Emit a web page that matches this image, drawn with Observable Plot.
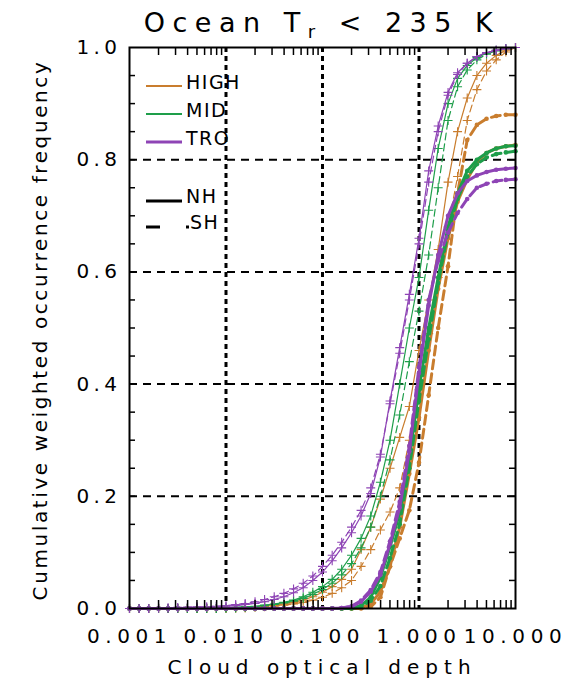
<!DOCTYPE html>
<html><head><meta charset="utf-8">
<script src="https://cdn.jsdelivr.net/npm/d3@7"></script>
<script src="https://cdn.jsdelivr.net/npm/@observablehq/plot@0.6"></script>
<style>
body{margin:0;background:#fff;}
svg text{font-family:"DejaVu Sans",sans-serif;}
</style></head><body><div id="chart"></div>
<script>
// Cloud optical depth grid
const tau = [0.001,0.00126,0.00158,0.002,0.00251,0.00316,0.00398,0.00501,0.00631,0.00794,
 0.01,0.0126,0.0158,0.02,0.0251,0.0316,0.0398,0.0501,0.0631,0.0794,
 0.1,0.126,0.158,0.2,0.251,0.316,0.398,0.501,0.631,0.794,
 1,1.26,1.58,2,2.51,3.16,3.98,5.01,6.31,7.94,10];

// thin curves (+ markers)
const thinHighNH = [0,0,0,0,0,0,0,0,0,0,
 0.001,0.001,0.002,0.003,0.004,0.006,0.008,0.011,0.015,0.021,
 0.029,0.039,0.052,0.07,0.105,0.145,0.195,0.25,0.305,0.36,
 0.46,0.55,0.64,0.76,0.85,0.91,0.95,0.972,0.986,0.995,1.0];
const thinHighSH = [0,0,0,0,0,0,0,0,0,0,
 0,0.001,0.001,0.002,0.003,0.004,0.006,0.008,0.011,0.015,
 0.02,0.027,0.037,0.05,0.075,0.105,0.14,0.172,0.215,0.3,
 0.39,0.49,0.59,0.68,0.77,0.87,0.925,0.958,0.978,0.992,1.0];
const thinMidNH = [0,0,0,0,0,0,0,0,0,0,
 0.001,0.002,0.003,0.004,0.006,0.008,0.011,0.015,0.021,0.029,
 0.039,0.052,0.07,0.095,0.125,0.165,0.225,0.3,0.4,0.5,
 0.59,0.71,0.82,0.9,0.945,0.968,0.982,0.99,0.995,0.998,1.0];
const thinMidSH = [0,0,0,0,0,0,0,0,0,0,
 0.001,0.001,0.002,0.003,0.005,0.007,0.01,0.013,0.018,0.025,
 0.034,0.045,0.06,0.08,0.108,0.145,0.2,0.265,0.345,0.44,
 0.53,0.63,0.75,0.87,0.93,0.96,0.978,0.988,0.994,0.998,1.0];
const thinTroNH = [0,0,0,0.001,0.001,0.001,0.002,0.002,0.002,0.003,
 0.004,0.005,0.007,0.009,0.012,0.016,0.021,0.028,0.037,0.05,
 0.065,0.085,0.108,0.135,0.165,0.205,0.27,0.37,0.465,0.56,
 0.66,0.78,0.86,0.92,0.955,0.972,0.984,0.991,0.995,0.998,1.0];
const thinTroSH = [0,0,0,0.001,0.001,0.002,0.002,0.003,0.003,0.004,
 0.005,0.007,0.009,0.012,0.016,0.021,0.027,0.035,0.045,0.058,
 0.075,0.095,0.118,0.145,0.175,0.215,0.275,0.365,0.455,0.55,
 0.65,0.76,0.85,0.915,0.952,0.972,0.984,0.991,0.995,0.998,1.0];

// thick curves (dot markers)
const thickHighNH = [0,0,0,0,0,0,0,0,0,0,0,0,0,0,0,0,0,0,0,0,
 0,0,0,0,0.001,0.008,0.03,0.075,0.145,0.24,0.34,0.46,0.57,0.66,0.725,0.765,0.795,0.812,0.82,0.824,0.826];
const thickHighSH = [0,0,0,0,0,0,0,0,0,0,0,0,0,0,0,0,0,0,0,0,
 0,0,0,0,0,0.003,0.02,0.075,0.125,0.175,0.26,0.38,0.5,0.61,0.74,0.835,0.862,0.873,0.878,0.88,0.88];
const thickMidNH = [0,0,0,0,0,0,0,0,0,0,0,0,0,0,0,0,0,0,0,0,
 0,0,0,0.001,0.005,0.02,0.055,0.11,0.17,0.27,0.39,0.5,0.59,0.68,0.74,0.78,0.8,0.812,0.82,0.824,0.825];
const thickMidSH = [0,0,0,0,0,0,0,0,0,0,0,0,0,0,0,0,0,0,0,0,
 0,0,0,0,0.003,0.014,0.04,0.09,0.15,0.25,0.37,0.48,0.58,0.67,0.73,0.77,0.792,0.804,0.81,0.813,0.815];
const thickTroNH = [0,0,0,0,0,0,0,0,0,0,0,0,0,0,0,0,0,0,0,0,
 0,0,0.001,0.003,0.012,0.03,0.06,0.115,0.18,0.28,0.42,0.54,0.63,0.7,0.74,0.762,0.772,0.778,0.782,0.784,0.785];
const thickTroSH = [0,0,0,0,0,0,0,0,0,0,0,0,0,0,0,0,0,0,0,0,
 0,0,0.001,0.004,0.014,0.033,0.065,0.12,0.19,0.29,0.43,0.55,0.62,0.67,0.705,0.73,0.75,0.757,0.762,0.764,0.765];

const regions = ["HIGH","MID","TRO"];
const colors = ["#C97D2E","#1E9E4A","#8E44B5"];
const hemis = ["NH","SH"];
const xTickLabels = [0.001,0.01,0.1,1,10];
const yTickLabels = [0,0.2,0.4,0.6,0.8,1.0];
const xGrid = [0.01,0.1,1];
const yGrid = [0.2,0.4,0.6,0.8];
const xMinor = [0.002,0.003,0.004,0.005,0.006,0.007,0.008,0.009,
 0.02,0.03,0.04,0.05,0.06,0.07,0.08,0.09,
 0.2,0.3,0.4,0.5,0.6,0.7,0.8,0.9,
 2,3,4,5,6,7,8,9];
const yMinor = [0.05,0.1,0.15,0.2,0.25,0.3,0.35,0.4,0.45,0.5,0.55,0.6,0.65,0.7,0.75,0.8,0.85,0.9,0.95];
const titleMain = "Ocean T", titleSub = "r", titleRest = " < 235 K";
const xLabel = "Cloud optical depth";
const yLabel = "Cumulative weighted occurrence frequency";

const series = [
 {set:"thin", region:"HIGH", hemi:"NH", values: thinHighNH},
 {set:"thin", region:"HIGH", hemi:"SH", values: thinHighSH},
 {set:"thin", region:"MID", hemi:"NH", values: thinMidNH},
 {set:"thin", region:"MID", hemi:"SH", values: thinMidSH},
 {set:"thin", region:"TRO", hemi:"NH", values: thinTroNH},
 {set:"thin", region:"TRO", hemi:"SH", values: thinTroSH},
 {set:"thick", region:"HIGH", hemi:"NH", values: thickHighNH},
 {set:"thick", region:"HIGH", hemi:"SH", values: thickHighSH},
 {set:"thick", region:"MID", hemi:"NH", values: thickMidNH},
 {set:"thick", region:"MID", hemi:"SH", values: thickMidSH},
 {set:"thick", region:"TRO", hemi:"NH", values: thickTroNH},
 {set:"thick", region:"TRO", hemi:"SH", values: thickTroSH}
];

const curveMarks = series.flatMap(s => {
  const rows = s.values.map((v, i) => ({tau: tau[i], f: v, region: s.region}));
  const thin = s.set === "thin";
  const dash = s.hemi === "SH" ? (thin ? "7,4" : "9,5") : null;
  const m = [Plot.line(rows, {x: "tau", y: "f", stroke: "region",
      strokeWidth: thin ? 1.2 : 3, strokeDasharray: dash})];
  if (thin) m.push(Plot.dot(rows, {x: "tau", y: "f", stroke: "region", symbol: "plus", r: 3, strokeWidth: 1.1}));
  else m.push(Plot.dot(rows, {x: "tau", y: "f", fill: "region", r: 2.3, stroke: "none"}));
  return m;
});

const chart = Plot.plot({
  width: 571, height: 683,
  marginLeft: 129, marginRight: 56, marginTop: 47, marginBottom: 75,
  x: {type: "log", domain: [0.001, 10]},
  y: {domain: [0, 1]},
  color: {domain: regions, range: colors},
  style: {background: "#fff", fontFamily: "DejaVu Sans", fontSize: "20px", color: "#000", overflow: "visible"},
  marks: [
    Plot.ruleY(yGrid, {strokeDasharray: "8,6", strokeWidth: 2}),
    Plot.ruleX(xGrid, {strokeDasharray: "5,4", strokeWidth: 3}),
    ...curveMarks,
    Plot.tickY(yMinor, {insetRight: 380, strokeWidth: 1.5}),
    Plot.tickY(yMinor, {insetLeft: 380, strokeWidth: 1.5}),
    Plot.tickX(xMinor, {insetTop: 553, strokeWidth: 1.5}),
    Plot.tickX(xMinor, {insetBottom: 553, strokeWidth: 1.5}),
    Plot.frame({strokeWidth: 2}),
    Plot.axisX(xTickLabels, {tickFormat: d3.format(".3f"), tickSize: 0, tickPadding: 20, label: null, fontSize: 20}),
    Plot.axisY(yTickLabels, {tickFormat: d3.format(".1f"), tickSize: 0, tickPadding: 8, label: null, fontSize: 20})
  ]
});
document.getElementById("chart").appendChild(chart);

const svg = d3.select(chart);
svg.selectAll('g[aria-label="x-axis tick label"] text').style("letter-spacing", "5.6px");
svg.selectAll('g[aria-label="y-axis tick label"] text').style("letter-spacing", "4.4px");

// title
const t = svg.append("text").attr("x", 322).attr("y", 32).attr("text-anchor", "middle")
  .style("font-size", "27px").style("letter-spacing", "7.5px");
t.append("tspan").text(titleMain);
t.append("tspan").attr("dy", 6).style("font-size", "18px").text(titleSub);
t.append("tspan").attr("dy", -6).text(titleRest);

// axis titles
svg.append("text").attr("x", 322).attr("y", 674).attr("text-anchor", "middle")
  .style("font-size", "20px").style("letter-spacing", "6px").text(xLabel);
svg.append("text").attr("transform", "translate(47,330) rotate(-90)").attr("text-anchor", "middle")
  .style("font-size", "20px").style("letter-spacing", "2.6px").text(yLabel);

// legend
const lg = svg.append("g").attr("text-anchor", "start");
const lx1 = 146, lx2 = 182;
regions.forEach((r, i) => {
  const y = [86, 114, 142][i];
  lg.append("line").attr("x1", lx1).attr("x2", lx2).attr("y1", y).attr("y2", y)
    .attr("stroke", colors[i]).attr("stroke-width", i === 2 ? 3 : 2);
  lg.append("text").attr("x", 186).attr("y", y + 3)
    .style("font-size", "19px").style("letter-spacing", "1.5px").text(r);
});
lg.append("line").attr("x1", lx1).attr("x2", lx2).attr("y1", 201).attr("y2", 201)
  .attr("stroke", "#000").attr("stroke-width", 3);
lg.append("text").attr("x", 186).attr("y", 203)
  .style("font-size", "19px").style("letter-spacing", "1.5px").text(hemis[0]);
lg.append("line").attr("x1", lx1).attr("x2", 189).attr("y1", 227).attr("y2", 227)
  .attr("stroke", "#000").attr("stroke-width", 3).attr("stroke-dasharray", "14,26,3,20");
lg.append("text").attr("x", 190).attr("y", 229)
  .style("font-size", "19px").style("letter-spacing", "1.5px").text(hemis[1]);
</script></body></html>
